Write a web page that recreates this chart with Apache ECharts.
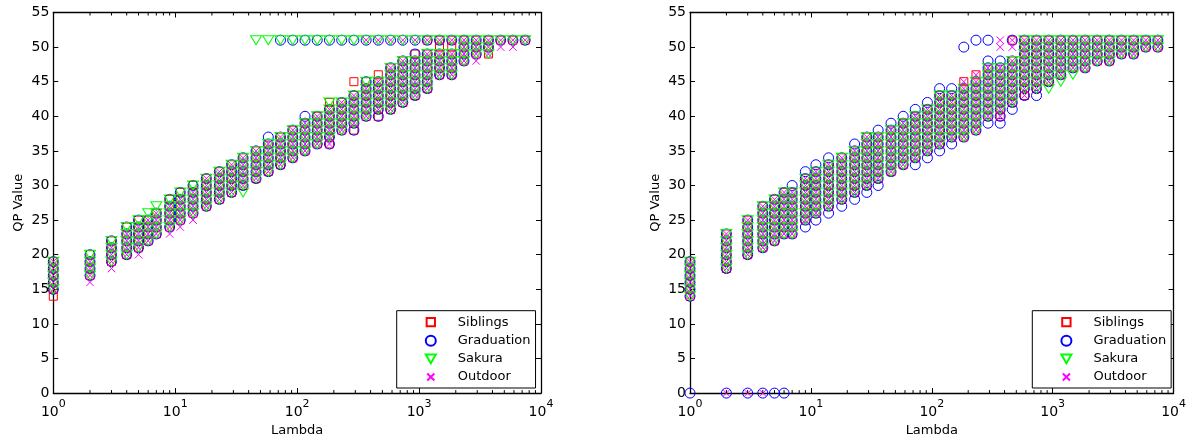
<!DOCTYPE html>
<html>
<head>
<meta charset="utf-8">
<script src="https://cdn.jsdelivr.net/npm/echarts@6/dist/echarts.min.js"></script>
<style>
  html, body { margin: 0; padding: 0; background: #fff; }
  #chart { width: 1189px; height: 442px; }
</style>
</head>
<body>
<div id="chart"></div>
<script>
// lambda columns (x), shared by both panels
const LAMBDA = [1, 2, 3, 4, 5, 6, 7, 9, 11, 14, 18, 23, 29, 36, 46, 58, 73, 92, 116, 146,
  184, 232, 292, 368, 463, 584, 735, 927, 1167, 1471, 1853, 2335, 2942, 3706, 4669, 5883, 7412];

const SERIES_NAMES = ['Siblings', 'Graduation', 'Sakura', 'Outdoor'];
const MINOR_TICKS = [2, 3, 4, 5, 6, 7, 8, 9, 20, 30, 40, 50, 60, 70, 80, 90,
  200, 300, 400, 500, 600, 700, 800, 900, 2000, 3000, 4000, 5000, 6000, 7000, 8000, 9000];

// QP values per lambda column, left panel
const leftSiblings = [
  [14,15,16,17,18,19], [17,18,19,20], [19,20,21,22], [20,21,22,23,24], [21,22,23,24,25],
  [22,23,24,25], [23,24,25,26], [24,25,26,27,28], [25,26,27,28,29], [26,27,28,29,30],
  [27,28,29,30,31], [28,29,30,31,32], [29,30,31,32,33], [30,31,32,33,34], [31,32,33,34,35],
  [32,33,34,35,36], [33,34,35,36,37], [34,35,36,37,38], [35,36,37,38,39], [36,37,38,39,40],
  [36,37,38,39,40,41,42], [38,39,40,41,42], [38,39,40,41,42,43,45], [40,41,42,43,44,45], [40,41,42,43,44,45,46],
  [41,42,43,44,45,46,47], [42,43,44,45,46,47,48], [43,44,45,46,47,48,49], [44,45,46,47,48,49,51], [46,47,48,49,50,51],
  [46,47,48,49,50,51], [48,49,50,51], [49,50,51], [49,50,51], [51], [51], [51]
];
const leftGraduation = [
  [15,16,17,18,19], [17,18,19,20], [19,20,21,22], [20,21,22,23,24], [21,22,23,24,25],
  [22,23,24,25], [23,24,25,26], [24,25,26,27,28], [25,26,27,28,29], [26,27,28,29,30],
  [27,28,29,30,31], [28,29,30,31,32], [29,30,31,32,33], [30,31,32,33,34], [31,32,33,34,35],
  [32,33,34,35,36,37], [33,34,35,36,37,51], [34,35,36,37,38,51], [35,36,37,38,39,40,51], [36,37,38,39,40,51],
  [36,37,38,39,40,41,51], [38,39,40,41,42,51], [38,39,40,41,42,43,51], [40,41,42,43,44,45,51], [40,41,42,43,44,45,51],
  [41,42,43,44,45,46,47,51], [42,43,44,45,46,47,48,51], [43,44,45,46,47,48,49,51], [44,45,46,47,48,49,51], [46,47,48,49,51],
  [46,47,48,49,51], [48,49,50,51], [49,50,51], [50,51], [51], [51], [51]
];
const leftSakura = [
  [15,16,17,18,19], [17,18,19,20], [19,20,21,22], [20,21,22,23,24], [21,22,23,24,25],
  [22,23,24,25,26], [23,24,25,26,27], [24,25,26,27,28], [25,26,27,28,29], [26,27,28,29,30],
  [27,28,29,30,31], [28,29,30,31,32], [29,30,31,32,33], [29,30,31,32,33,34], [31,32,33,34,35,51],
  [32,33,34,35,36,51], [33,34,35,36,37,51], [34,35,36,37,38,51], [35,36,37,38,39,51], [36,37,38,39,40,51],
  [37,38,39,40,41,42,51], [38,39,40,41,42,51], [39,40,41,42,43,51], [40,41,42,43,44,45,51], [41,42,43,44,45,51],
  [41,42,43,44,45,46,47,51], [42,43,44,45,46,47,48,51], [43,44,45,46,47,48,51], [44,45,46,47,48,49,51], [46,47,48,49,51],
  [46,47,48,49,51], [48,49,50,51], [49,50,51], [49,50,51], [51], [51], [51]
];
const leftOutdoor = [
  [15,16,17,18,19], [16,17,18,19], [18,19,20,21], [20,21,22,23], [20,21,22,23,24],
  [22,23,24,25], [23,24,25,26], [23,24,25,26,27], [24,25,26,27,28], [25,26,27,28,29],
  [27,28,29,30,31], [28,29,30,31,32], [29,30,31,32,33], [30,31,32,33,34], [31,32,33,34,35],
  [32,33,34,35,36], [33,34,35,36,37], [34,35,36,37,38], [35,36,37,38,39], [36,37,38,39,40],
  [36,37,38,39,40,41], [38,39,40,41,42], [39,40,41,42,43], [40,41,42,43,44,51], [41,42,43,44,45,51],
  [41,42,43,44,45,46,47,51], [42,43,44,45,46,47,48,51], [43,44,45,46,47,48,51], [44,45,46,47,48,49,51], [46,47,48,49,51],
  [46,47,48,49,51], [48,49,50,51], [48,49,50,51], [49,50,51], [50,51], [50,51], [51]
];

// QP values per lambda column, right panel
const rightSiblings = [
  [14,15,16,17,18,19], [18,19,20,21,22,23], [20,21,22,23,24,25], [21,22,23,24,25,26,27], [22,23,24,25,26,27,28],
  [23,24,25,26,27,28,29], [23,24,25,26,27,28,29], [25,26,27,28,29,30,31], [26,27,28,29,30,31,32], [27,28,29,30,31,32,33],
  [28,29,30,31,32,33,34], [29,30,31,32,33,34,35], [30,31,32,33,34,35,36,37], [31,32,33,34,35,36,37], [32,33,34,35,36,37,38],
  [33,34,35,36,37,38,39], [34,35,36,37,38,39,40], [35,36,37,38,39,40,41], [36,37,38,39,40,41,42,43], [37,38,39,40,41,42,43],
  [37,38,39,40,41,42,43,44,45], [38,39,40,41,42,43,44,45,46], [40,41,42,43,44,45,46,47], [40,41,42,43,44,45,46,47], [42,43,44,45,46,47,48,51],
  [43,44,45,46,47,48,49,50,51], [44,45,46,47,48,49,50,51], [45,46,47,48,49,50,51], [46,47,48,49,50,51], [47,48,49,50,51],
  [47,48,49,50,51], [48,49,50,51], [48,49,50,51], [49,50,51], [49,50,51], [50,51], [50,51]
];
const rightGraduation = [
  [0,14,15,16,17,18,19], [0,18,19,20,21,22,23], [0,20,21,22,23,24,25], [0,21,22,23,24,25,26,27], [0,22,23,24,25,26,27,28],
  [0,23,24,25,26,27,28,29], [23,24,25,26,27,28,29,30], [24,25,26,27,28,29,30,31,32], [25,26,27,28,29,30,31,32,33], [26,27,28,29,30,31,32,33,34],
  [27,28,29,30,31,32,33,34], [28,29,30,31,32,33,34,35,36], [29,30,31,32,33,34,35,36,37], [30,31,32,33,34,35,36,37,38], [32,33,34,35,36,37,38,39],
  [33,34,35,36,37,38,39,40], [33,34,35,36,37,38,39,40,41], [34,35,36,37,38,39,40,41,42], [35,36,37,38,39,40,41,42,43,44], [36,37,38,39,40,41,42,43,44],
  [37,38,39,40,41,42,43,44,50], [38,39,40,41,42,43,44,45,51], [39,40,41,42,43,44,45,46,47,48,51], [39,40,41,42,43,44,45,46,47,48], [41,42,43,44,45,46,47,48,51],
  [43,44,45,46,47,48,49,50,51], [43,44,45,46,47,48,49,50,51], [45,46,47,48,49,50,51], [46,47,48,49,50,51], [47,48,49,50,51],
  [47,48,49,50,51], [48,49,50,51], [48,49,50,51], [49,50,51], [49,50,51], [50,51], [50,51]
];
const rightSakura = [
  [14,15,16,17,18,19], [18,19,20,21,22,23], [20,21,22,23,24,25], [21,22,23,24,25,26,27], [22,23,24,25,26,27,28],
  [23,24,25,26,27,28,29], [23,24,25,26,27,28,29], [25,26,27,28,29,30,31], [26,27,28,29,30,31,32], [27,28,29,30,31,32,33],
  [28,29,30,31,32,33,34], [29,30,31,32,33,34,35], [30,31,32,33,34,35,36,37], [31,32,33,34,35,36,37], [32,33,34,35,36,37,38],
  [33,34,35,36,37,38,39], [34,35,36,37,38,39,40], [35,36,37,38,39,40,41], [36,37,38,39,40,41,42,43], [37,38,39,40,41,42,43],
  [37,38,39,40,41,42,43,44], [38,39,40,41,42,43,44,45], [40,41,42,43,44,45,46,47], [41,42,43,44,45,46,47], [42,43,44,45,46,47,48],
  [44,45,46,47,48,49,50,51], [44,45,46,47,48,49,50,51], [44,45,46,47,48,49,50,51], [45,46,47,48,49,50,51], [46,47,48,49,50,51],
  [47,48,49,50,51], [48,49,50,51], [48,49,50,51], [49,50,51], [49,50,51], [50,51], [50,51]
];
const rightOutdoor = [
  [14,15,16,17,18,19], [0,18,19,20,21,22,23], [0,20,21,22,23,24,25], [0,21,22,23,24,25,26,27], [22,23,24,25,26,27,28],
  [23,24,25,26,27,28,29], [23,24,25,26,27,28,29], [25,26,27,28,29,30,31], [26,27,28,29,30,31,32], [27,28,29,30,31,32,33],
  [28,29,30,31,32,33,34], [29,30,31,32,33,34,35], [30,31,32,33,34,35,36,37], [31,32,33,34,35,36,37], [32,33,34,35,36,37,38],
  [33,34,35,36,37,38,39], [34,35,36,37,38,39,40], [35,36,37,38,39,40,41], [36,37,38,39,40,41,42,43], [37,38,39,40,41,42,43],
  [37,38,39,40,41,42,43,44,45], [38,39,40,41,42,43,44,45,46], [40,41,42,43,44,45,46,47], [40,41,42,43,44,45,46,47,50,51], [42,43,44,45,46,47,48,50,51],
  [43,44,45,46,47,48,49,50,51], [44,45,46,47,48,49,50,51], [45,46,47,48,49,50,51], [46,47,48,49,50,51], [47,48,49,50,51],
  [47,48,49,50,51], [48,49,50,51], [48,49,50,51], [49,50,51], [49,50,51], [50,51], [50,51]
];

const PANELS = [
  [leftSiblings, leftGraduation, leftSakura, leftOutdoor],
  [rightSiblings, rightGraduation, rightSakura, rightOutdoor]
];

const FONT = 'DejaVu Sans';
const MARKERS = {
  Siblings:   { symbol: 'path://M0,0L10,0L10,10L0,10Z', size: 8, color: '#ff0000',
                legendIcon: 'path://M-1,-1M11,11M0,0L10,0L10,10L0,10Z' },
  Graduation: { symbol: 'circle', size: 10, color: '#0000ff', legendIcon: 'circle' },
  Sakura:     { symbol: 'path://M0,0L10,0L5,8.66Z', size: [11, 9], color: '#00ff00',
                legendIcon: 'path://M0,0L10,0L5,8.66Z' },
  Outdoor:    { symbol: 'path://M0,0L10,10M10,0L0,10', size: 7.5, color: '#ff00ff',
                legendIcon: 'path://M-2,-2M12,12M0,0L10,10M10,0L0,10' }
};

const grids = [
  { left: 53.3, top: 12.5, width: 487.7, height: 383.2 },
  { left: 690, top: 12.5, width: 486.7, height: 383.2 }
];
const legendLeft = [396.7, 1032.3];

function toPoints(cols) {
  const pts = [];
  cols.forEach((qs, i) => qs.forEach(q => pts.push([LAMBDA[i], q])));
  return pts;
}

const xAxes = [], yAxes = [], series = [];
grids.forEach((g, gi) => {
  const line = { show: true, onZero: false, lineStyle: { color: '#000', width: 1.3 } };
  xAxes.push({
    type: 'log', logBase: 10, min: 1, max: 10000, gridIndex: gi, position: 'bottom',
    axisLine: line,
    axisTick: { inside: true, length: 5, lineStyle: { color: '#000' } },
    splitLine: { show: false },
    axisLabel: {
      margin: 6, color: '#000',
      formatter: v => '{b|10}{s|' + Math.round(Math.log10(v)) + '}',
      rich: {
        b: { fontFamily: FONT, fontSize: 14, lineHeight: 20, verticalAlign: 'bottom', color: '#000' },
        s: { fontFamily: FONT, fontSize: 11, lineHeight: 8, verticalAlign: 'top', color: '#000' }
      }
    },
    name: 'Lambda', nameLocation: 'middle', nameGap: 29,
    nameTextStyle: { fontFamily: FONT, fontSize: 13, color: '#000' }
  });
  xAxes.push({
    type: 'log', logBase: 10, min: 1, max: 10000, gridIndex: gi, position: 'top',
    axisLine: line,
    axisTick: { inside: true, length: 5, lineStyle: { color: '#000' } },
    axisLabel: { show: false }, splitLine: { show: false }
  });
  yAxes.push({
    type: 'value', min: 0, max: 55, interval: 5, gridIndex: gi, position: 'left',
    axisLine: line,
    axisTick: { inside: true, length: 5, lineStyle: { color: '#000' } },
    splitLine: { show: false },
    axisLabel: { margin: 4, color: '#000', fontFamily: FONT, fontSize: 14 },
    name: 'QP Value', nameLocation: 'middle', nameGap: 28, nameRotate: 90,
    nameTextStyle: { fontFamily: FONT, fontSize: 13, color: '#000' }
  });
  yAxes.push({
    type: 'value', min: 0, max: 55, interval: 5, gridIndex: gi, position: 'right',
    axisLine: line,
    axisTick: { inside: true, length: 5, lineStyle: { color: '#000' } },
    axisLabel: { show: false }, splitLine: { show: false }
  });

  PANELS[gi].forEach((cols, si) => {
    const name = SERIES_NAMES[si];
    const m = MARKERS[name];
    series.push({
      type: 'scatter', name: name, xAxisIndex: gi * 2, yAxisIndex: gi * 2,
      data: toPoints(cols),
      symbol: m.symbol, symbolSize: m.size,
      itemStyle: { color: 'none', borderColor: m.color, borderWidth: 1, opacity: 1 },
      emphasis: { disabled: true },
      clip: false
    });
  });

  // minor ticks of the log axis at 2..9 of each decade
  series.push({
    type: 'custom', xAxisIndex: gi * 2, yAxisIndex: gi * 2, silent: true, clip: false, z: 3,
    data: MINOR_TICKS.map(v => [v, 0]),
    encode: { x: 0, y: 1 },
    renderItem: function (params, api) {
      const v = api.value(0);
      const pb = api.coord([v, 0]);
      const pt = api.coord([v, 55]);
      return {
        type: 'group',
        children: [
          { type: 'line', shape: { x1: pb[0], y1: pb[1], x2: pb[0], y2: pb[1] - 3 }, style: { stroke: '#000', lineWidth: 1 } },
          { type: 'line', shape: { x1: pt[0], y1: pt[1], x2: pt[0], y2: pt[1] + 3 }, style: { stroke: '#000', lineWidth: 1 } }
        ]
      };
    }
  });
});

const chart = echarts.init(document.getElementById('chart'));
chart.setOption({
  animation: false,
  backgroundColor: '#fff',
  grid: grids,
  xAxis: xAxes,
  yAxis: yAxes,
  legend: legendLeft.map(l => ({
    orient: 'vertical', left: l, top: 310.7,
    padding: [4, 5, 3.5, 26.6],
    itemWidth: 10, itemHeight: 10, itemGap: 3.6,
    symbolKeepAspect: true,
    borderColor: '#000', borderWidth: 1, backgroundColor: '#fff',
    selectedMode: false,
    textStyle: { fontFamily: FONT, fontSize: 13, color: '#000', lineHeight: 14, padding: [0, 0, 0, 17] },
    data: SERIES_NAMES.map(n => ({ name: n, icon: MARKERS[n].legendIcon }))
  })),
  series: series
});
</script>
</body>
</html>
